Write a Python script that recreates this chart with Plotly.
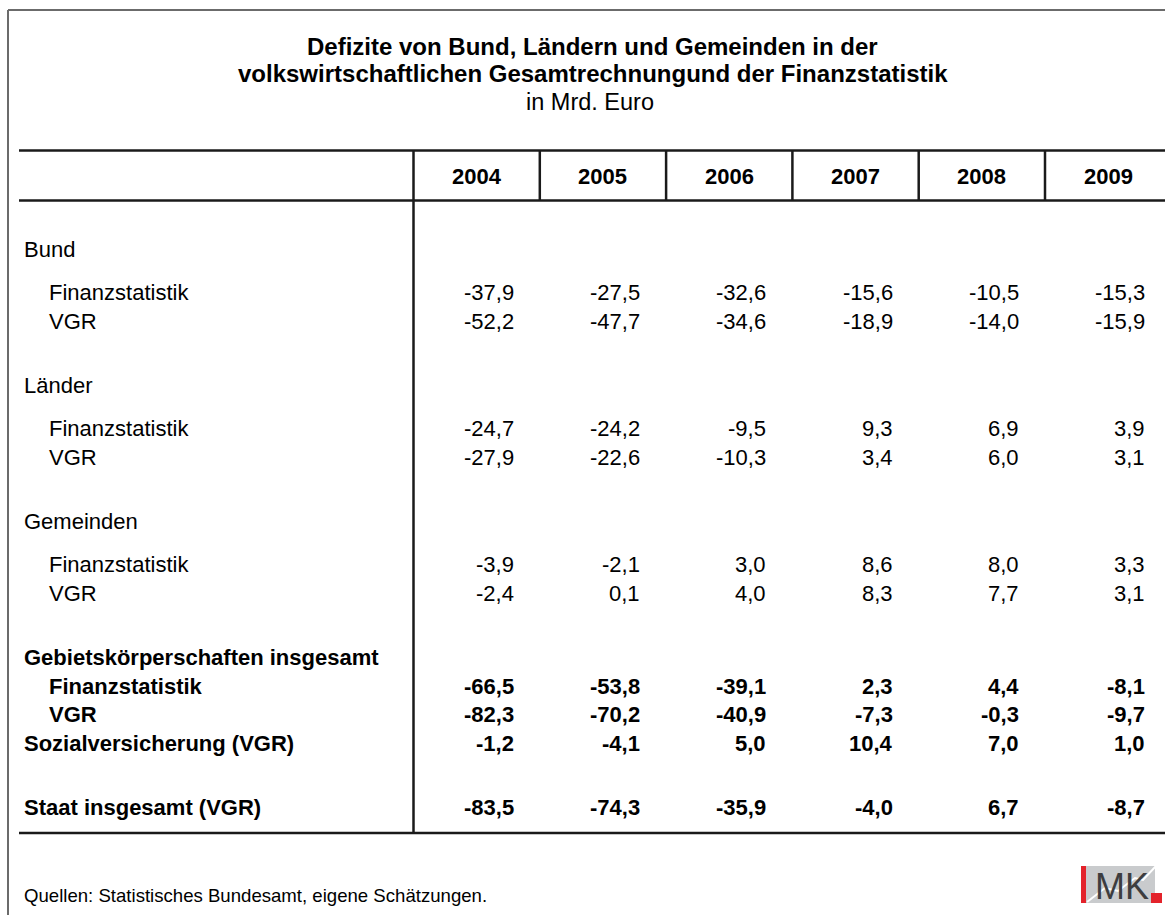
import plotly.graph_objects as go

# ---------------- data ----------------
years = ["2004", "2005", "2006", "2007", "2008", "2009"]

bund_fin = [-37.9, -27.5, -32.6, -15.6, -10.5, -15.3]
bund_vgr = [-52.2, -47.7, -34.6, -18.9, -14.0, -15.9]
laender_fin = [-24.7, -24.2, -9.5, 9.3, 6.9, 3.9]
laender_vgr = [-27.9, -22.6, -10.3, 3.4, 6.0, 3.1]
gemeinden_fin = [-3.9, -2.1, 3.0, 8.6, 8.0, 3.3]
gemeinden_vgr = [-2.4, 0.1, 4.0, 8.3, 7.7, 3.1]
gk_fin = [-66.5, -53.8, -39.1, 2.3, 4.4, -8.1]
gk_vgr = [-82.3, -70.2, -40.9, -7.3, -0.3, -9.7]
sozial_vgr = [-1.2, -4.1, 5.0, 10.4, 7.0, 1.0]
staat_vgr = [-83.5, -74.3, -35.9, -4.0, 6.7, -8.7]

row_labels = [
    "Bund", "Finanzstatistik", "VGR",
    "Länder", "Finanzstatistik", "VGR",
    "Gemeinden", "Finanzstatistik", "VGR",
    "Gebietskörperschaften insgesamt", "Finanzstatistik", "VGR",
    "Sozialversicherung (VGR)",
    "Staat insgesamt (VGR)",
]
row_values = [
    None, bund_fin, bund_vgr,
    None, laender_fin, laender_vgr,
    None, gemeinden_fin, gemeinden_vgr,
    None, gk_fin, gk_vgr,
    sozial_vgr,
    staat_vgr,
]

title_1 = "Defizite von Bund, Ländern und Gemeinden in der"
title_2 = "volkswirtschaftlichen Gesamtrechnungund der Finanzstatistik"
subtitle = "in Mrd. Euro"
source = "Quellen: Statistisches Bundesamt, eigene Schätzungen."

# ---------------- layout / style ----------------
W, H = 1165, 915
FONT = "Arial, 'Liberation Sans', Helvetica, sans-serif"
row_y = [249, 292, 321, 385, 428, 457, 521, 564, 593, 657, 686, 714, 743, 807]
row_bold = [False] * 9 + [True] * 5
row_indent = [False, True, True, False, True, True, False, True, True,
              False, True, True, False, False]

label_x, indent_x = 22, 47
first_col_left = 413.5
col_w = 126.3
val_pad = 24
table_left, table_top, header_bottom, table_bottom = 19, 150.5, 200.5, 833
header_y = 176

LINE = "#1a1a1a"
FRAME = "#6b6b6b"
body_size = 22


def fmt(v):
    return f"{v:.1f}".replace(".", ",")


fig = go.Figure()
ann = []
shapes = []

# title
ann.append(dict(x=592, y=46, text=f"<b>{title_1}</b>", font=dict(size=24)))
ann.append(dict(x=593, y=73, text=f"<b>{title_2}</b>", font=dict(size=24)))
ann.append(dict(x=590, y=102, text=subtitle, font=dict(size=23.5)))

# header
for i, yr in enumerate(years):
    cx = first_col_left + col_w * (i + 0.5)
    ann.append(dict(x=cx, y=header_y, text=f"<b>{yr}</b>", font=dict(size=22)))

# rows
for lab, vals, y, b, ind in zip(row_labels, row_values, row_y, row_bold, row_indent):
    t = f"<b>{lab}</b>" if b else lab
    ann.append(dict(x=indent_x if ind else label_x, y=y, text=t, xanchor="left",
                    font=dict(size=body_size)))
    if vals is not None:
        for i, v in enumerate(vals):
            rx = first_col_left + col_w * (i + 1) - val_pad
            s = fmt(v)
            ann.append(dict(x=rx, y=y, text=f"<b>{s}</b>" if b else s, xanchor="right",
                            font=dict(size=body_size)))

# source
ann.append(dict(x=label_x, y=895, text=source, xanchor="left", font=dict(size=18.6)))

for a in ann:
    a.setdefault("xanchor", "center")
    a.update(xref="x", yref="y", yanchor="middle", showarrow=False)
    a["font"].update(family=FONT, color="#000000")

# frame
shapes.append(dict(type="line", x0=8, x1=W, y0=10, y1=10, line=dict(color=FRAME, width=2)))
shapes.append(dict(type="line", x0=8, x1=8, y0=10, y1=H, line=dict(color=FRAME, width=2)))

# table lines
for yy in (table_top, header_bottom, table_bottom):
    shapes.append(dict(type="line", x0=table_left, x1=W, y0=yy, y1=yy,
                       line=dict(color=LINE, width=2.5)))
shapes.append(dict(type="line", x0=first_col_left, x1=first_col_left,
                   y0=table_top, y1=table_bottom, line=dict(color=LINE, width=2.5)))
for i in range(1, len(years)):
    xx = first_col_left + col_w * i
    shapes.append(dict(type="line", x0=xx, x1=xx, y0=table_top, y1=header_bottom,
                       line=dict(color=LINE, width=2.5)))

# IMK logo
shapes.append(dict(type="rect", x0=1086, x1=1155, y0=866, y1=903,
                   fillcolor="#c9cbcd", line=dict(width=0)))
shapes.append(dict(type="path", path="M1087,902 L1105,888 L1118,891 L1135,878 L1143,880 L1156,866",
                   line=dict(color="#ffffff", width=2)))
shapes.append(dict(type="rect", x0=1081, x1=1086, y0=866, y1=903,
                   fillcolor="#e3232b", line=dict(width=0)))
shapes.append(dict(type="rect", x0=1151, x1=1162, y0=893, y1=903,
                   fillcolor="#e3232b", line=dict(width=0)))
ann.append(dict(x=1122, y=886, text="MK", xref="x", yref="y", showarrow=False,
                xanchor="center", yanchor="middle",
                font=dict(family=FONT, size=36, color="#3d3d3f")))

for s in shapes:
    s.update(xref="x", yref="y", layer="above")

fig.update_layout(
    width=W, height=H,
    margin=dict(l=0, r=0, t=0, b=0),
    paper_bgcolor="white", plot_bgcolor="white",
    xaxis=dict(range=[0, W], visible=False, fixedrange=True),
    yaxis=dict(range=[H, 0], visible=False, fixedrange=True),
    annotations=ann, shapes=shapes, showlegend=False,
)

fig.write_html(
    "out.html",
    config={"displayModeBar": False},
    post_script="document.body.style.margin='0';document.body.style.overflow='hidden';",
)
